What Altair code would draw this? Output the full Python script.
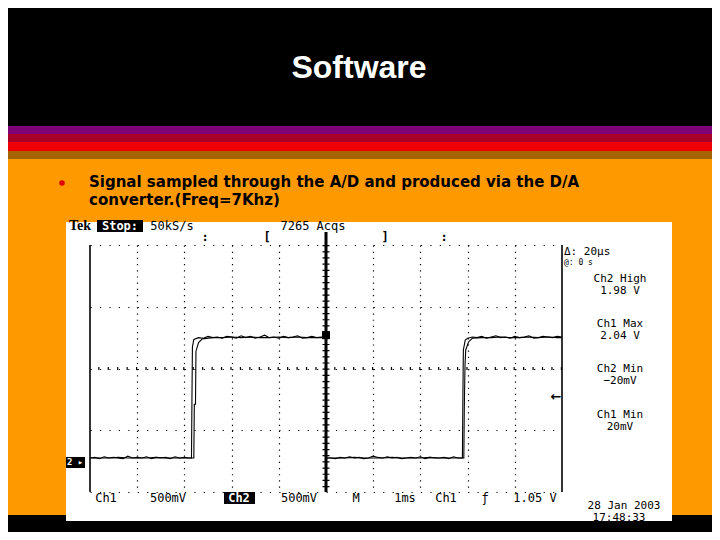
import altair as alt
import pandas as pd

# ---------------- data ----------------
title_text = "Software"
bullet_lines = ["Signal sampled through the A/D and produced via the D/A",
                "converter.(Freq=7Khz)"]

# Ch1 trace (time in ms, volts)
ch1_t = [0.0, 0.1, 0.2, 0.3, 0.4, 0.5, 0.6, 0.7, 0.8, 0.9, 1.0, 1.1, 1.2, 1.3, 1.4, 1.5,
         1.6, 1.7, 1.8, 1.9, 2.0, 2.1, 2.15, 2.16, 2.17, 2.20,
         2.3, 2.4, 2.5, 2.6, 2.7, 2.8, 2.9, 3.0, 3.1, 3.2, 3.3, 3.4, 3.5, 3.6, 3.7, 3.8,
         3.9, 4.0, 4.1, 4.2, 4.3, 4.4, 4.5, 4.6, 4.7, 4.8, 4.9, 4.99, 5.00,
         5.1, 5.2, 5.3, 5.4, 5.5, 5.6, 5.7, 5.8, 5.9, 6.0, 6.1, 6.2, 6.3, 6.4, 6.5, 6.6,
         6.7, 6.8, 6.9, 7.0, 7.1, 7.2, 7.3, 7.4, 7.5, 7.6, 7.7, 7.8, 7.89, 7.90, 7.91, 7.95,
         8.0, 8.1, 8.2, 8.3, 8.4, 8.5, 8.6, 8.7, 8.8, 8.9, 9.0, 9.1, 9.2, 9.3, 9.4, 9.5,
         9.6, 9.7, 9.8, 9.9, 10.0]
ch1_v = [0.05, 0.06, 0.04, 0.07, 0.05, 0.06, 0.05, 0.04, 0.08, 0.05, 0.06, 0.05, 0.07, 0.04, 0.06, 0.05,
         0.06, 0.04, 0.07, 0.05, 0.06, 0.05, 0.05, 1.00, 1.85, 1.97,
         2.00, 1.99, 2.02, 2.00, 2.01, 1.99, 2.02, 2.01, 1.99, 2.03, 2.00, 2.02, 1.99, 2.01, 2.04, 2.00,
         2.01, 1.99, 2.02, 2.00, 2.01, 2.03, 1.99, 2.00, 2.02, 2.00, 2.01, 2.01, 0.05,
         0.05, 0.04, 0.06, 0.05, 0.07, 0.05, 0.06, 0.04, 0.05, 0.08, 0.06, 0.05, 0.07, 0.05, 0.06, 0.04,
         0.05, 0.06, 0.05, 0.07, 0.04, 0.06, 0.05, 0.05, 0.06, 0.04, 0.07, 0.05, 0.05, 1.00, 1.80, 1.96,
         1.99, 2.01, 2.00, 2.02, 1.99, 2.01, 2.03, 2.00, 2.01, 1.99, 2.02, 2.00, 2.01, 2.03, 1.99, 2.00,
         2.02, 2.01, 2.00, 2.02, 2.01]

# Ch2 trace (D/A output, slightly delayed, stepped edge)
ch2_t = [0.0, 0.2, 0.4, 0.6, 0.8, 1.0, 1.2, 1.4, 1.6, 1.8, 2.0, 2.20, 2.21, 2.235, 2.245,
         2.30, 2.38, 2.6, 2.8, 3.0, 3.2, 3.4, 3.6, 3.8, 4.0, 4.2, 4.4, 4.6, 4.8, 4.99, 5.01,
         5.2, 5.4, 5.6, 5.8, 6.0, 6.2, 6.4, 6.6, 6.8, 7.0, 7.2, 7.4, 7.6, 7.8, 7.92, 7.93,
         7.945, 7.96, 8.02, 8.10, 8.3, 8.5, 8.7, 8.9, 9.1, 9.3, 9.5, 9.7, 9.9, 10.0]
ch2_v = [0.05, 0.05, 0.05, 0.06, 0.05, 0.05, 0.05, 0.06, 0.05, 0.05, 0.05, 0.05, 0.92, 0.92, 1.78,
         1.92, 1.98, 2.00, 2.00, 2.01, 2.00, 2.01, 2.00, 2.00, 2.01, 2.00, 2.01, 2.00, 2.00, 2.00, 0.05,
         0.05, 0.05, 0.06, 0.05, 0.05, 0.05, 0.06, 0.05, 0.05, 0.05, 0.06, 0.05, 0.05, 0.05, 0.05, 0.85,
         1.55, 1.80, 1.93, 1.99, 2.00, 2.00, 2.01, 2.00, 2.00, 2.01, 2.00, 2.01, 2.00, 2.00]

grid_t = [1, 2, 3, 4, 5, 6, 7, 8, 9]
grid_v = [-0.5, 0.0, 0.5, 1.0, 1.5, 2.0, 2.5, 3.0, 3.5]
center_v = [1.5]
cursor_t = [5.0]
cursor_v = [2.04]
edge_t = [0.0, 10.0]

header_labels = ["Tek", "Stop:", "50kS/s", "7265 Acqs"]
top_marks = [":", "[", "]", ":"]
cursor_labels = ["\u0394: 20\u00b5s", "@: 0 s"]
readouts = [("Ch2 High", "1.98 V"), ("Ch1 Max", "2.04 V"),
            ("Ch2 Min", "\u221220mV"), ("Ch1 Min", "20mV")]
bottom_labels = ["Ch1", "500mV", "Ch2", "500mV", "M", "1ms", "Ch1", "\u0192", "1.05 V"]
date_lines = ["28 Jan 2003", "17:48:33"]

# ---------------- layout (reference pixel positions) ----------------
W, H = 472, 247          # grid (plot) area
OX, OY = 90, 245         # plot origin in slide coordinates
ORANGE = "#FF9900"
SCOPE_FONT = "DejaVu Sans Mono"


def px(x):
    return x - OX


def py(y):
    return y - OY


one = pd.DataFrame({"k": [0]})


def rect(x1, y1, x2, y2, color):
    return alt.Chart(one).mark_rect(color=color).encode(
        x=alt.value(px(x1)), x2=alt.value(px(x2)),
        y=alt.value(py(y1)), y2=alt.value(py(y2)))


def text(s, x, y, size=12, color="black", font=SCOPE_FONT, weight="normal", align="center"):
    return alt.Chart(one).mark_text(
        text=s, align=align, baseline="middle", fontSize=size, font=font,
        fontWeight=weight, color=color).encode(x=alt.value(px(x)), y=alt.value(py(y)))


layers = []
# slide background bands
layers.append(rect(0, 0, 720, 126, "black"))
layers.append(rect(0, 126, 720, 134, "#800078"))
layers.append(rect(0, 134, 720, 142, "#A80028"))
layers.append(rect(0, 142, 720, 151, "#F00000"))
layers.append(rect(0, 151, 720, 159, "#A66400"))
layers.append(rect(0, 515, 720, 540, "black"))
# scope screenshot white area
layers.append(rect(66, 222, 672, 521, "white"))

# title and bullet
layers.append(text(title_text, 359, 68, size=32, color="white",
                   font="Liberation Sans", weight="bold"))
layers.append(alt.Chart(one).mark_circle(color="#E00000", opacity=1, size=30).encode(
    x=alt.value(px(62)), y=alt.value(py(183))))
layers.append(text(bullet_lines[0], 89, 182, size=15, font="DejaVu Sans",
                   weight="bold", align="left"))
layers.append(text(bullet_lines[1], 89, 200, size=15, font="DejaVu Sans",
                   weight="bold", align="left"))

# waveform data
df = pd.concat([
    pd.DataFrame({"t": ch1_t, "v": ch1_v, "ch": "Ch1"}),
    pd.DataFrame({"t": ch2_t, "v": ch2_v, "ch": "Ch2"}),
])

xscale = alt.Scale(domain=[0, 10], nice=False, zero=False)
yscale = alt.Scale(domain=[-0.5, 3.5], nice=False, zero=False)

wave = alt.Chart(df).mark_line(color="black", strokeWidth=1.1, interpolate="linear").encode(
    x=alt.X("t:Q", scale=xscale,
            axis=alt.Axis(values=grid_t, grid=True, gridColor="black", gridWidth=1.2,
                          gridDash=[1.2, 4.98], gridOpacity=1, domain=False, ticks=False,
                          labels=False, title=None, zindex=1)),
    y=alt.Y("v:Q", scale=yscale,
            axis=alt.Axis(values=grid_v, grid=True, gridColor="black", gridWidth=1.2,
                          gridDash=[1.2, 8.24], gridOpacity=1, domain=False, ticks=False,
                          labels=False, title=None, zindex=1)),
    detail="ch:N",
)

# borders, centre ticks, cursor
edges = alt.Chart(pd.DataFrame({"t": edge_t})).mark_rule(color="black", strokeWidth=1.6).encode(
    x=alt.X("t:Q", scale=xscale))
center_row = alt.Chart(pd.DataFrame({"v": center_v})).mark_rule(
    color="black", strokeWidth=3, strokeDash=[1.2, 8.24]).encode(y=alt.Y("v:Q", scale=yscale))
center_col = alt.Chart(pd.DataFrame({"t": cursor_t})).mark_rule(
    color="black", strokeWidth=7, strokeDash=[1.2, 4.98]).encode(x=alt.X("t:Q", scale=xscale))
cursor_line = alt.Chart(pd.DataFrame({"t": cursor_t})).mark_rule(
    color="black", strokeWidth=3).encode(
    x=alt.X("t:Q", scale=xscale), y=alt.value(-13), y2=alt.value(H))
cursor_box = alt.Chart(pd.DataFrame({"t": cursor_t, "v": cursor_v})).mark_square(
    color="black", size=64, opacity=1).encode(
    x=alt.X("t:Q", scale=xscale), y=alt.Y("v:Q", scale=yscale))

layers += [edges, center_row, center_col, cursor_line, wave, cursor_box]

# scope header text
layers.append(text(header_labels[0], 80, 226, size=14, font="Liberation Serif", weight="bold"))
layers.append(rect(97, 220, 143, 232, "black"))
layers.append(text(header_labels[1], 120, 226, size=12, color="white", weight="bold"))
layers.append(text(header_labels[2], 172, 226, size=12))
layers.append(text(header_labels[3], 313, 226, size=12))
for s, x in zip(top_marks, [205, 267, 385, 444]):
    layers.append(text(s, x, 237, size=12, weight="bold"))

# cursor readouts
layers.append(text(cursor_labels[0], 564, 252, size=11, align="left"))
layers.append(text(cursor_labels[1], 564, 263, size=8, align="left"))
for (a, b), y in zip(readouts, [280, 325, 370, 416]):
    layers.append(text(a, 620, y - 1, size=11))
    layers.append(text(b, 620, y + 11, size=11))

# ground marker and trigger level arrow
layers.append(rect(66, 457, 85, 468, "black"))
layers.append(text("2 \u25b8", 75, 462, size=9, color="white", weight="bold"))
layers.append(text("\u2190", 556, 397, size=13, font="DejaVu Sans", weight="bold"))

# bottom settings line
layers.append(rect(224, 492, 255, 504, "black"))
for s, x in zip(bottom_labels, [106, 168, 239, 299, 356, 405, 446, 485, 535]):
    col = "white" if x == 239 else "black"
    layers.append(text(s, x, 498, size=12, color=col, weight="bold" if x == 239 else "normal"))
layers.append(text(date_lines[0], 624, 506, size=11))
layers.append(text(date_lines[1], 619, 518, size=11))

chart = alt.layer(*layers).properties(
    width=W, height=H,
    autosize=alt.AutoSizeParams(type="none"),
    padding={"left": OX - 8, "top": OY - 8, "right": 704 - (OX - 8) - W,
             "bottom": 524 - (OY - 8) - H},
).configure(background=ORANGE).configure_view(stroke=None)

chart.save("out.html", embed_options={"renderer": "svg", "actions": False})
